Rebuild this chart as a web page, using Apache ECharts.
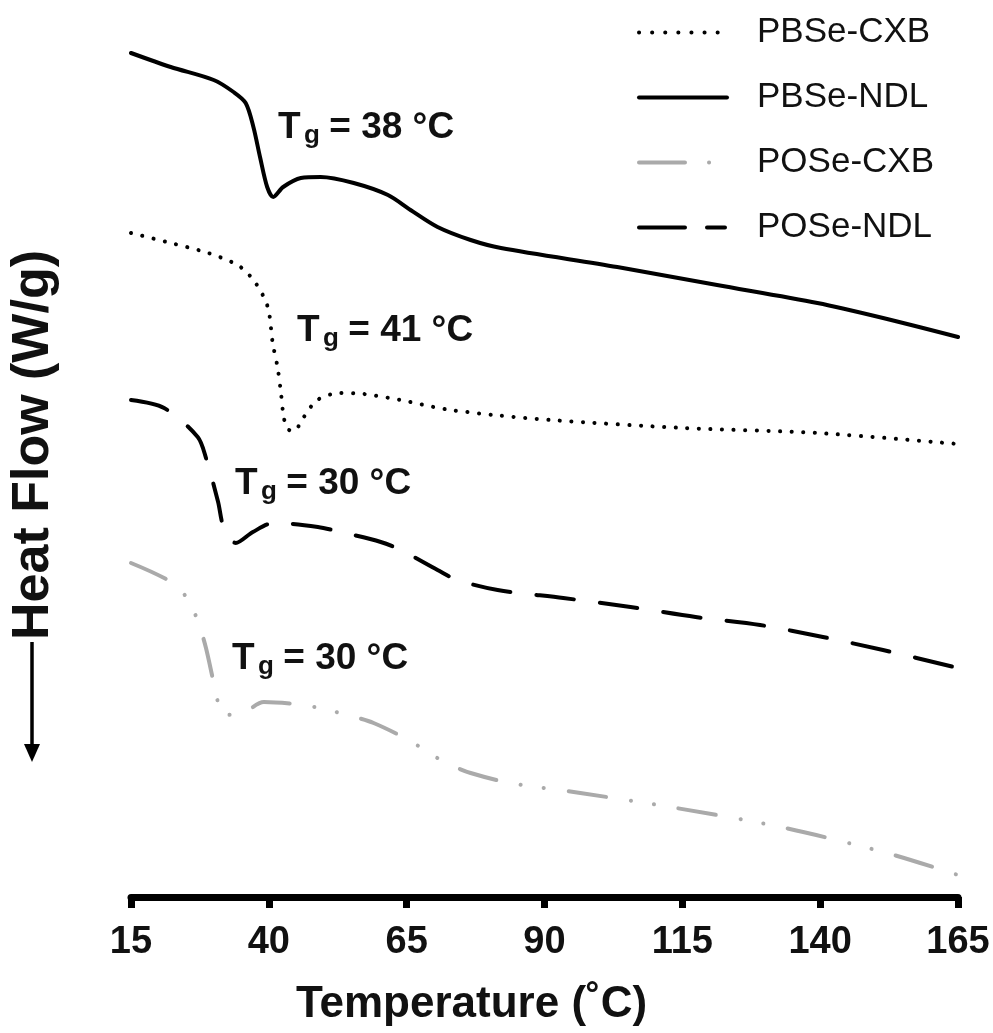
<!DOCTYPE html>
<html>
<head>
<meta charset="utf-8">
<script src="https://cdn.jsdelivr.net/npm/echarts@6/dist/echarts.min.js"></script>
<style>
  html, body { margin: 0; padding: 0; background: #fff; }
  #chart { width: 993px; height: 1033px; }
</style>
</head>
<body>
<div id="chart"></div>
<script>
// Temperatures (°C) and heat flow (W/g, stacked offsets)
const pbseCxbTemp = [15, 22.2, 29.0, 34.6, 37.6, 39.8, 40.7, 41.6, 42.2, 42.7, 43.4, 44.6, 46.1, 48.8, 53.0, 57.2, 63.9, 69.9, 73.0, 80.8, 91.1, 115.2, 139.5, 165];
const pbseCxbFlow = [6.64, 6.54, 6.44, 6.31, 6.14, 5.90, 5.54, 5.29, 5.04, 4.80, 4.68, 4.66, 4.78, 4.97, 5.04, 5.03, 4.97, 4.90, 4.87, 4.82, 4.77, 4.69, 4.64, 4.53];

const pbseNdlTemp = [15, 22.2, 30.0, 33.6, 35.8, 37.2, 38.4, 39.7, 40.8, 42.6, 45.8, 49.4, 55.4, 61.6, 65.7, 70.6, 76.6, 82.1, 103.2, 121.3, 139.5, 151.4, 165];
const pbseNdlFlow = [8.44, 8.30, 8.17, 8.05, 7.94, 7.70, 7.40, 7.10, 7.00, 7.10, 7.19, 7.20, 7.14, 7.02, 6.87, 6.70, 6.57, 6.49, 6.30, 6.12, 5.94, 5.79, 5.60];

const poseCxbTemp = [15, 22.6, 25.5, 27.3, 28.6, 30.4, 31.7, 35.3, 39.1, 46.2, 50.7, 54.9, 59.0, 65.7, 69.3, 73.0, 76.6, 83.8, 96.5, 112.8, 132.8, 152.1, 165];
const poseCxbFlow = [3.34, 3.14, 2.96, 2.73, 2.49, 2.05, 1.82, 1.84, 1.95, 1.92, 1.87, 1.81, 1.74, 1.56, 1.43, 1.32, 1.24, 1.14, 1.04, 0.90, 0.70, 0.44, 0.22];

const poseNdlTemp = [15, 21.0, 27.1, 28.6, 30.8, 31.8, 34.0, 37.1, 40.9, 48.9, 53.0, 60.3, 63.9, 70.6, 74.2, 81.5, 93.4, 105.6, 117.4, 129.1, 140.5, 151.4, 165];
const poseNdlFlow = [4.97, 4.89, 4.60, 4.39, 3.95, 3.70, 3.54, 3.65, 3.74, 3.70, 3.65, 3.55, 3.47, 3.27, 3.17, 3.07, 2.99, 2.90, 2.80, 2.72, 2.60, 2.47, 2.29];

const seriesNames = ["PBSe-CXB", "PBSe-NDL", "POSe-CXB", "POSe-NDL"];
const xTicks = [15, 40, 65, 90, 115, 140, 165];
const tgValues = [38, 41, 30, 30];

const FONT = '"Liberation Sans", Arial, Helvetica, sans-serif';

const pairs = (xs, ys) => xs.map((x, i) => [x, ys[i]]);

const chart = echarts.init(document.getElementById("chart"));

const tgLabel = (x, y, val) => ({
  type: "group",
  x: x,
  y: y,
  children: [
    { type: "text", x: 0, y: 0, style: { text: "T", fontSize: 37, fontWeight: "bold", fontFamily: FONT, fill: "#111", verticalAlign: "middle" } },
    { type: "text", x: 26, y: 8, style: { text: "g", fontSize: 26, fontWeight: "bold", fontFamily: FONT, fill: "#111", verticalAlign: "middle" } },
    { type: "text", x: 41, y: 0, style: { text: " = " + val + " °C", fontSize: 37, fontWeight: "bold", fontFamily: FONT, fill: "#111", verticalAlign: "middle" } },
  ],
});

const lineSeries = (name, data, color, type) => ({
  name: name,
  type: "line",
  data: data,
  symbol: "none",
  smooth: 0.3,
  silent: true,
  lineStyle: { color: color, width: 4, type: type, cap: "round", join: "round" },
  itemStyle: { color: color },
});

chart.setOption({
  animation: false,
  backgroundColor: "#fff",
  grid: { left: 130, right: 35, top: 47, bottom: 136 },
  xAxis: {
    type: "value",
    min: 15,
    max: 165,
    interval: 25,
    name: "Temperature (˚C)",
    nameLocation: "middle",
    nameGap: 86,
    nameTextStyle: { fontSize: 44, fontWeight: "bold", fontFamily: FONT, color: "#111", padding: [0, 146, 0, 0] },
    axisLine: { lineStyle: { color: "#000", width: 7 } },
    axisTick: { length: 11, lineStyle: { color: "#000", width: 7 } },
    axisLabel: {
      margin: 27,
      fontSize: 38,
      fontWeight: "bold",
      fontFamily: FONT,
      color: "#111",
      formatter: (v) => (xTicks.indexOf(v) >= 0 ? String(v) : ""),
    },
    splitLine: { show: false },
  },
  yAxis: {
    type: "value",
    min: 0,
    max: 8.5,
    name: "Heat Flow (W/g)",
    nameLocation: "middle",
    nameGap: 71,
    nameRotate: 90,
    nameTextStyle: { fontSize: 52, fontWeight: "bold", fontFamily: FONT, color: "#111", padding: [0, 0, 0, 54] },
    axisLine: { show: false },
    axisTick: { show: false },
    axisLabel: { show: false },
    splitLine: { show: false },
  },
  legend: {
    orient: "vertical",
    left: 637,
    top: 15,
    padding: 0,
    itemWidth: 88,
    itemHeight: 14,
    itemGap: 30,
    selectedMode: false,
    itemStyle: { opacity: 0 },
    textStyle: { fontSize: 35, fontFamily: FONT, color: "#111", padding: [0, 0, 0, 25] },
    data: [
      { name: seriesNames[0], lineStyle: { width: 4, type: [0.1, 13], cap: "round" } },
      { name: seriesNames[1], lineStyle: { width: 4, type: "solid", cap: "round" } },
      { name: seriesNames[2], lineStyle: { width: 4, type: [46, 24, 0.1, 40], cap: "round" } },
      { name: seriesNames[3], lineStyle: { width: 4, type: [46, 22, 18, 40], cap: "round" } },
    ],
  },
  series: [
    lineSeries(seriesNames[0], pairs(pbseCxbTemp, pbseCxbFlow), "#000", [0.1, 11.5]),
    lineSeries(seriesNames[1], pairs(pbseNdlTemp, pbseNdlFlow), "#000", "solid"),
    lineSeries(seriesNames[2], pairs(poseCxbTemp, poseCxbFlow), "#aaaaaa", [38, 25, 0.1, 23, 0.1, 25]),
    lineSeries(seriesNames[3], pairs(poseNdlTemp, poseNdlFlow), "#000", [38, 26]),
  ],
  graphic: [
    // downward arrow beside the y-axis title
    { type: "line", shape: { x1: 32, y1: 642, x2: 32, y2: 748 }, style: { stroke: "#000", lineWidth: 3.5 } },
    { type: "polygon", shape: { points: [[24, 744], [40, 744], [32, 762]] }, style: { fill: "#000" } },
    tgLabel(278, 127.5, tgValues[0]),
    tgLabel(297, 331, tgValues[1]),
    tgLabel(235, 484, tgValues[2]),
    tgLabel(232, 658.5, tgValues[3]),
  ],
});
</script>
</body>
</html>
